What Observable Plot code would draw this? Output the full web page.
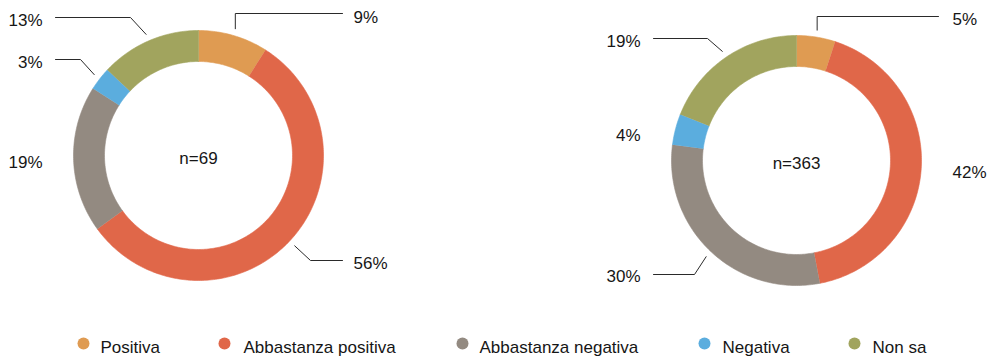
<!DOCTYPE html>
<html>
<head>
<meta charset="utf-8">
<script src="https://cdn.jsdelivr.net/npm/d3@7"></script>
<script src="https://cdn.jsdelivr.net/npm/@observablehq/plot@0.6"></script>
<style>
  html, body { margin: 0; padding: 0; background: #fff; }
  #chart { width: 991px; height: 359px; }
</style>
</head>
<body>
<div id="chart"></div>
<script>
// ---- data ----
const categories = ["Positiva", "Abbastanza positiva", "Abbastanza negativa", "Negativa", "Non sa"];
const colors = ["#DF9B52", "#E06749", "#938A81", "#5BADDE", "#A1A45E"];
const leftValues = [9, 56, 19, 3, 13];
const rightValues = [5, 42, 30, 4, 19];
const sampleSizes = [69, 363];

// ---- layout (positions only) ----
const W = 991, H = 359;
const R = 125, r = 94, leaderR = 132;
const charts = [
  {id: "L", cx: 198, cy: 155, values: leftValues, n: sampleSizes[0],
   labels: [
     {tx: 353, ty: 17, anchor: "start", leader: {ex: null, ey: 13, endX: 342}},
     {tx: 353, ty: 263, anchor: "start", leader: {ex: 310, ey: 260, endX: 342}},
     {tx: 42, ty: 162, anchor: "end", leader: null},
     {tx: 42, ty: 62, anchor: "end", leader: {ex: 80, ey: 59, endX: 55}},
     {tx: 42, ty: 20, anchor: "end", leader: {ex: 130, ey: 17, endX: 55}}
   ]},
  {id: "R", cx: 796, cy: 160, values: rightValues, n: sampleSizes[1],
   labels: [
     {tx: 952, ty: 19, anchor: "start", leader: {ex: null, ey: 16, endX: 938}},
     {tx: 952, ty: 172, anchor: "start", leader: null},
     {tx: 640, ty: 276, anchor: "end", leader: {ex: 694, ey: 274, endX: 653}},
     {tx: 640, ty: 135, anchor: "end", leader: null},
     {tx: 640, ty: 41, anchor: "end", leader: {ex: 707, ey: 38, endX: 653}}
   ]}
];
const legendDotX = [83, 224, 462, 704, 854];
const legendTextX = [100, 243, 479, 722, 872];
const legendDotY = 343, legendTextY = 347;

// ---- build geometry from values ----
const slicePts = [];
const leaderPts = [];
const labelRows = [];
const centerRows = [];
for (const c of charts) {
  const total = d3.sum(c.values);
  let acc = 0;
  c.values.forEach((v, i) => {
    const a0 = acc / total * 2 * Math.PI;
    acc += v;
    const a1 = acc / total * 2 * Math.PI;
    const key = c.id + i;
    const steps = Math.max(2, Math.ceil((a1 - a0) / (Math.PI / 180)));
    for (let k = 0; k <= steps; k++) {
      const a = a0 + (a1 - a0) * k / steps;
      slicePts.push({key, cat: categories[i], x: c.cx + R * Math.sin(a), y: c.cy - R * Math.cos(a)});
    }
    for (let k = steps; k >= 0; k--) {
      const a = a0 + (a1 - a0) * k / steps;
      slicePts.push({key, cat: categories[i], x: c.cx + r * Math.sin(a), y: c.cy - r * Math.cos(a)});
    }
    const mid = (a0 + a1) / 2;
    const lab = c.labels[i];
    labelRows.push({x: lab.tx, y: lab.ty, text: v + "%", anchor: lab.anchor});
    if (lab.leader) {
      const sx = c.cx + leaderR * Math.sin(mid), sy = c.cy - leaderR * Math.cos(mid);
      const ex = lab.leader.ex == null ? sx : lab.leader.ex;
      const ey = lab.leader.ey;
      leaderPts.push({key, x: sx, y: sy}, {key, x: ex, y: ey}, {key, x: lab.leader.endX, y: ey});
    }
  });
  centerRows.push({x: c.cx, y: c.cy + 3, text: "n=" + c.n});
}
const legendRows = categories.map((cat, i) => ({cat, dx: legendDotX[i], tx: legendTextX[i]}));

const font = "'Liberation Sans', Arial, Helvetica, sans-serif";
const textColor = "#161616";
const fs = 17;

const chart = Plot.plot({
  width: W, height: H,
  margin: 0,
  style: {background: "#fff", fontFamily: font},
  x: {domain: [0, W], range: [0, W], axis: null},
  y: {domain: [0, H], range: [0, H], axis: null},
  color: {type: "ordinal", domain: categories, range: colors},
  marks: [
    Plot.line(slicePts, {x: "x", y: "y", z: "key", fill: "cat", stroke: "cat", strokeWidth: 0.6, curve: "linear"}),
    Plot.line(leaderPts, {x: "x", y: "y", z: "key", stroke: "#2a2a2a", strokeWidth: 1}),
    Plot.text(labelRows.filter(d => d.anchor === "start"), {x: "x", y: "y", text: "text", textAnchor: "start", fontSize: fs, fill: textColor}),
    Plot.text(labelRows.filter(d => d.anchor === "end"), {x: "x", y: "y", text: "text", textAnchor: "end", fontSize: fs, fill: textColor}),
    Plot.text(centerRows, {x: "x", y: "y", text: "text", fontSize: fs, fill: textColor}),
    Plot.dot(legendRows, {x: "dx", y: () => legendDotY, r: 6, fill: "cat", stroke: null}),
    Plot.text(legendRows, {x: "tx", y: () => legendTextY, text: "cat", textAnchor: "start", fontSize: fs, fill: textColor})
  ]
});
document.getElementById("chart").appendChild(chart);
</script>
</body>
</html>
